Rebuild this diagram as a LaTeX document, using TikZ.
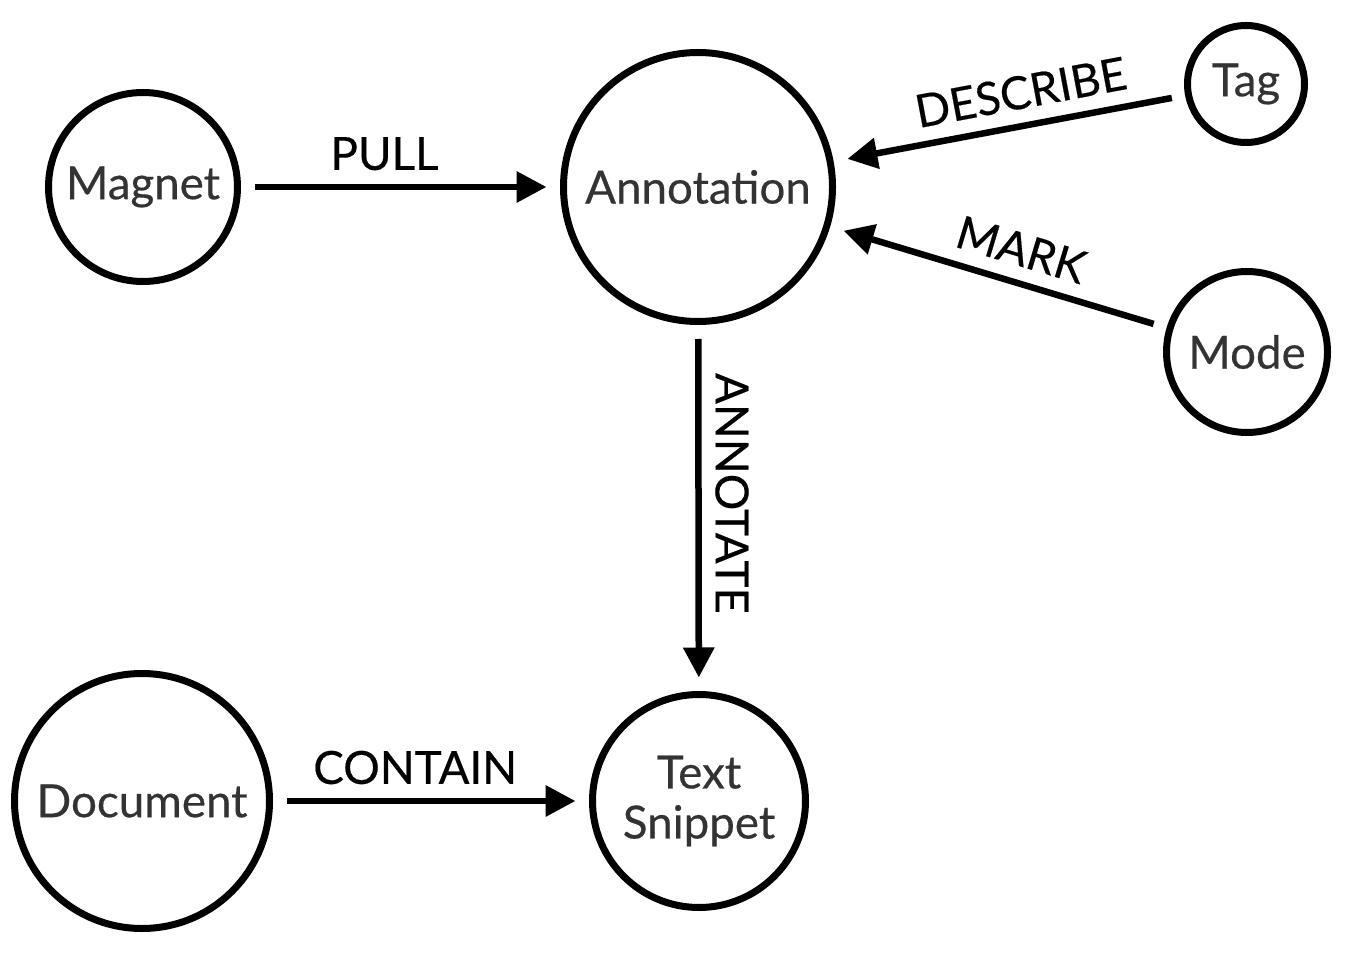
\documentclass[tikz,border=0pt]{standalone}
\usepackage{fontspec}
\setmainfont[FakeBold=0.4]{Lato}
\usetikzlibrary{arrows.meta,positioning}
\definecolor{nodetext}{HTML}{333333}
\begin{document}
\begin{tikzpicture}[
  >={Triangle[length=0.6cm,width=0.6cm]},
  ent/.style={draw, circle, line width=0.14cm, inner sep=0pt, align=center, text=nodetext, font=\fontsize{26}{28.5}\selectfont},
  arr/.style={->, line width=0.13cm, shorten <=0.28cm, shorten >=0.27cm},
  rarr/.style={<-, line width=0.13cm, shorten <=0.28cm, shorten >=0.27cm},
  lbl/.style={font=\fontsize{26}{28}\selectfont, inner sep=0.27cm}
]
\useasboundingbox (0,0) rectangle (26.96,-19.52);

\node[ent, minimum size=3.78cm] (magnet) at (2.86,-3.74) {Magnet};
\node[ent, minimum size=5.38cm] (annot) at (13.96,-3.74) {Annotation};
\node[ent, minimum size=2.34cm] (tag) at (24.92,-1.68) {Tag};
\node[ent, minimum size=3.22cm] (mode) at (24.94,-7.04) {Mode};
\node[ent, minimum size=5.10cm] (doc) at (2.84,-16.02) {Document};
\node[ent, minimum size=4.26cm] (snippet) at (13.98,-16.02) {Text\\Snippet};

\draw[arr] (magnet) -- node[lbl, above, pos=0.45] {PULL} (annot);
\draw[rarr] (annot) -- node[lbl, sloped, above, pos=0.55] {DESCRIBE} (tag);
\draw[rarr] (annot) -- node[lbl, sloped, above, pos=0.54] {MARK} (mode);
\draw[arr] (annot) -- node[lbl, pos=0.46, rotate=-90, anchor=south] {ANNOTATE} (snippet);
\draw[arr] (doc) -- node[lbl, above, pos=0.45] {CONTAIN} (snippet);
\end{tikzpicture}
\end{document}
